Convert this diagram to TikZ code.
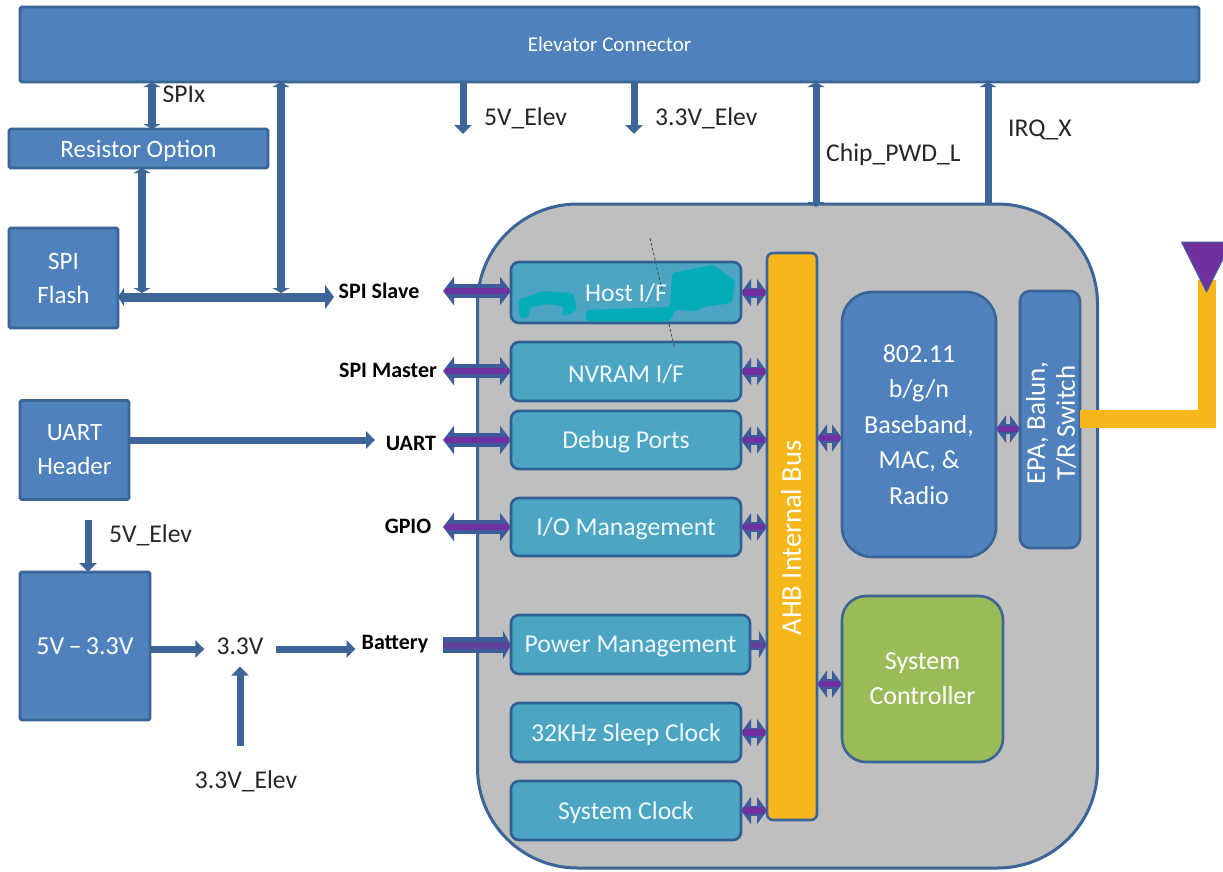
\documentclass[tikz,border=0pt]{standalone}
\usepackage{fontspec}
\setmainfont{Carlito}
\usetikzlibrary{arrows.meta,calc}
\definecolor{boxblue}{HTML}{4F81BD}
\definecolor{edgeblue}{HTML}{3B6596}
\definecolor{linkblue}{HTML}{3D6598}
\definecolor{teal1}{HTML}{4BA5C3}
\definecolor{tealedge}{HTML}{2F5F93}
\definecolor{chipgray}{HTML}{BFBFBF}
\definecolor{busyellow}{HTML}{F5B71C}
\definecolor{ctrlgreen}{HTML}{9BBB59}
\definecolor{purp}{HTML}{70309F}
\definecolor{linkdark}{HTML}{3F5C9A}
\definecolor{blot}{HTML}{02ADB8}
\newcommand{\fsz}[1]{\fontsize{#1}{#1}\selectfont}
\newcommand{\dn}[1]{\raisebox{-2.2pt}[\height][\depth]{#1}}
\tikzset{
  x=1pt,y=-1pt,
  bx/.style={draw=edgeblue,line width=2.6pt,fill=boxblue,text=white,inner sep=0pt,outer sep=0pt,align=center,rounded corners=1.5pt},
  tealbox/.style={draw=tealedge,line width=2.6pt,fill=teal1,text=white!92!teal1,inner sep=0pt,outer sep=0pt,align=center,rounded corners=8pt,font=\fsz{25.7}},
  lbl/.style={text=black!85,inner sep=0pt,font=\fsz{25.6}},
  blbl/.style={text=black,inner sep=0pt,font=\bfseries\fsz{22}},
  bluedbl/.style={draw=linkblue,line width=8pt,{Triangle[width=17pt,length=5pt]}-{Triangle[width=17pt,length=5pt]}},
  blueone/.style={draw=linkblue,line width=7pt,-{Triangle[width=17pt,length=9pt]}},
  portlong/.style={draw=linkdark,line width=14pt,{Triangle[width=28pt,length=11pt]}-{Triangle[width=28pt,length=11pt]},
     postaction={draw=purp,line width=6.5pt,-,shorten >=2pt,shorten <=2pt}},
  portshort/.style={draw=linkdark,line width=10pt,{Triangle[width=27pt,length=10pt]}-{Triangle[width=27pt,length=10pt]},
     postaction={draw=purp,line width=6.5pt,-,shorten >=2pt,shorten <=2pt}},
  portin/.style={draw=linkdark,line width=16pt,-{Triangle[width=28pt,length=8pt]},
     postaction={draw=purp!65!linkblue,line width=7pt,-,shorten >=2pt}},
}
\begin{document}
\begin{tikzpicture}
\useasboundingbox (0,0) rectangle (1223,871);
\fill[white] (0,0) rectangle (1223,871);

% chip body
\node[draw=edgeblue,line width=3pt,fill=chipgray,rounded corners=100pt,minimum width=620pt,minimum height=664pt,outer sep=0pt,inner sep=0pt] (chip) at (787.5,536) {};

% top and left blocks
\node[bx,minimum width=1179pt,minimum height=75pt,font=\fsz{21}] (elev) at (609.5,44.5) {Elevator Connector};
\node[bx,minimum width=259pt,minimum height=39pt,font=\fsz{25}] (resistor) at (138.5,148.5) {\dn{Resistor Option}};
\node[bx,minimum width=109pt,minimum height=100pt,font=\fsz{25}] (flash) at (63.5,278) {SPI\\[9pt]Flash};
\node[bx,minimum width=109pt,minimum height=99pt,font=\fsz{25}] (uart) at (74.5,450) {UART\\[9pt]Header};
\node[bx,minimum width=130pt,minimum height=148pt,font=\fsz{26}] (reg) at (85,646) {5V\,--\,3.3V};

% chip blocks
\node[tealbox,minimum width=230pt,minimum height=61pt] (host) at (626,292.5) {};
\fill[blot,rounded corners=3pt] (586,310) -- (670,307) -- (672,273) -- (713,265) -- (735,280) -- (732,303) -- (703,307) -- (697,311) -- (675,310) -- (670,321) -- (586,321) -- cycle;
\fill[blot,rounded corners=3pt] (520,318) -- (518,300) -- (543,291) -- (573,293) -- (577,310) -- (563,317) -- (563,306) -- (550,304) -- (530,307) -- (528,318) -- cycle;
\node[text=white!92!teal1,inner sep=0pt,font=\fsz{25.7}] (hosttxt) at (626,293) {Host I/F};
\node[tealbox,minimum width=230pt,minimum height=59pt] (nvram) at (626,371.5) {\dn{NVRAM I/F}};
\node[tealbox,minimum width=230pt,minimum height=58pt] (debug) at (626,440) {\dn{Debug Ports}};
\node[tealbox,minimum width=230pt,minimum height=58pt] (io) at (626,527) {\dn{I/O Management}};
\node[tealbox,minimum width=239pt,minimum height=59pt] (power) at (630.5,644.5) {\dn{Power Management}};
\node[tealbox,minimum width=230pt,minimum height=59pt] (sleep) at (626,732.5) {\dn{32KHz Sleep Clock}};
\node[tealbox,minimum width=230pt,minimum height=59pt] (sysclk) at (626,810.5) {\dn{System Clock}};
\draw[black!70,densely dashed,line width=.8pt] (650,238) -- (662,290);
\draw[black!70,densely dashed,line width=.8pt] (669,324) -- (674,346);

\node[bx,fill=busyellow,rounded corners=6pt,minimum width=50pt,minimum height=567pt] (ahb) at (792,536.5) {};
\node[text=white,rotate=90,inner sep=0pt,font=\fsz{28.5}] (ahbtxt) at (791,538) {AHB Internal Bus};
\node[bx,rounded corners=30pt,minimum width=154pt,minimum height=265pt,font=\fsz{26}] (mac) at (919,424.5) {802.11\\[9.5pt]b/g/n\\[9.5pt]Baseband,\\[9.5pt]MAC, \&\\[9.5pt]Radio};
\node[bx,rounded corners=10pt,minimum width=60pt,minimum height=257pt] (epa) at (1050,419.5) {};
\node[text=white,rotate=90,inner sep=0pt,align=center,font=\fsz{27}] (epatxt) at (1051,423) {EPA, Balun,\\[3pt]T/R Switch};
\node[bx,fill=ctrlgreen,rounded corners=24pt,minimum width=161pt,minimum height=166pt,font=\fsz{26}] (ctrl) at (922.5,679) {System\\[9pt]Controller};

% antenna
\coordinate (antfeed) at (1206.5,419);
\coordinate (anttop) at (1206.5,280);
\coordinate (antpeak) at (1206.5,292);
\draw[busyellow,line width=18pt,line join=miter] (epa.east |- antfeed) -- (antfeed) -- (anttop);
\fill[purp,draw=linkblue,line width=1pt,line join=round] (antpeak) ++(-25,-50) -- ++(50,0) -- ++(-25,50) -- cycle;

% free ends
\coordinate (p5v) at (463,134);
\coordinate (p33) at (634,134);
\coordinate (pchip) at (816,207);
\coordinate (pirq) at (988,204);
\coordinate (xspi) at (152,129);
\coordinate (xres) at (142,297);
\coordinate (xbus) at (281,297);
\coordinate (slaveEnd) at (334,297);

% blue links
\draw[bluedbl] (xspi |- elev.south) -- (xspi |- resistor.north);
\draw[bluedbl] (xres |- resistor.south) -- ($(xres)+(0,-4)$);
\draw[bluedbl] (xbus |- elev.south) -- ($(xbus)+(0,-4)$);
\draw[draw=linkblue,line width=9pt,{Triangle[width=18pt,length=6pt]}-{Triangle[width=24pt,length=9pt]}] (flash.east |- xres) -- (slaveEnd);
\draw[blueone] (p5v |- elev.south) -- (p5v);
\draw[blueone] (p33 |- elev.south) -- (p33);
\draw[draw=linkblue,line width=7pt,{Triangle[width=17pt,length=5pt]}-{Triangle[width=17pt,length=5pt]}] (pchip |- elev.south) -- (pchip);
\draw[draw=linkblue,line width=7pt,{Triangle[width=17pt,length=5pt]}-] (pirq |- elev.south) -- (pirq);

% labels
\node[lbl] (spix) at (184,94) {SPIx};
\node[lbl,anchor=west] (l5v) at (484,118) {5V\_Elev};
\node[lbl,anchor=west] (l33) at (655,118) {3.3V\_Elev};
\node[lbl,anchor=west] (lchip) at (826,155) {Chip\_PWD\_L};
\node[lbl,anchor=west] (lirq) at (1008,130) {IRQ\_X};
\node[lbl,anchor=west] (l5vb) at (109,535) {5V\_Elev};
\node[lbl] (v33) at (240,646) {3.3V};
\node[lbl] (l33b) at (246,781) {3.3V\_Elev};
\node[blbl] (slave) at (379,291) {SPI Slave};
\node[blbl] (master) at (388,370) {SPI Master};
\node[blbl] (luart) at (411,443) {UART};
\node[blbl] (gpio) at (408,526) {GPIO};
\node[blbl] (batt) at (395,644) {Battery};

% power / uart links
\coordinate (reg5) at (88,520);
\coordinate (v33in) at (240,746);
\coordinate (rowp) at (150,649);
\coordinate (uartEnd) at (375,440);
\draw[blueone] (reg5) -- (reg5 |- reg.north);
\draw[blueone,shorten >=12pt] (rowp) -- (v33.west |- rowp);
\draw[blueone,shorten <=12pt,shorten >=6pt] (v33.east |- rowp) -- (batt.west |- rowp);
\draw[blueone,shorten >=12pt] (v33in) -- (v33.south);
\draw[blueone] (uart.east |- uartEnd) -- (uartEnd);

% port links
\coordinate (hostp) at (443,291);
\coordinate (nvp) at (443,371);
\coordinate (dbp) at (443,440);
\coordinate (iop) at (443,527);
\coordinate (batp) at (443,645);
\draw[portlong] (hostp) -- (host.west |- hostp);
\draw[portlong] (nvp) -- (nvram.west |- nvp);
\draw[portlong] (dbp) -- (debug.west |- dbp);
\draw[portlong] (iop) -- (io.west |- iop);
\draw[portin] (batp) -- (power.west |- batp);

\foreach \b in {host,nvram,debug,io,sleep,sysclk}{
  \draw[portshort] (\b.east) -- (\b.east -| ahb.west);
}
\draw[draw=linkdark,line width=10pt,-{Triangle[width=27pt,length=8pt]},postaction={draw=purp!65!linkblue,line width=6pt,-,shorten >=2pt}] (power.east) -- (power.east -| ahb.west);
\coordinate (mp) at (830,438);
\coordinate (cp) at (830,684);
\coordinate (ep) at (1008,429);
\draw[portshort] (ahb.east |- mp) -- (mac.west |- mp);
\draw[portshort] (ahb.east |- cp) -- (ctrl.west |- cp);
\draw[portshort] (mac.east |- ep) -- (epa.west |- ep);
\end{tikzpicture}
\end{document}
